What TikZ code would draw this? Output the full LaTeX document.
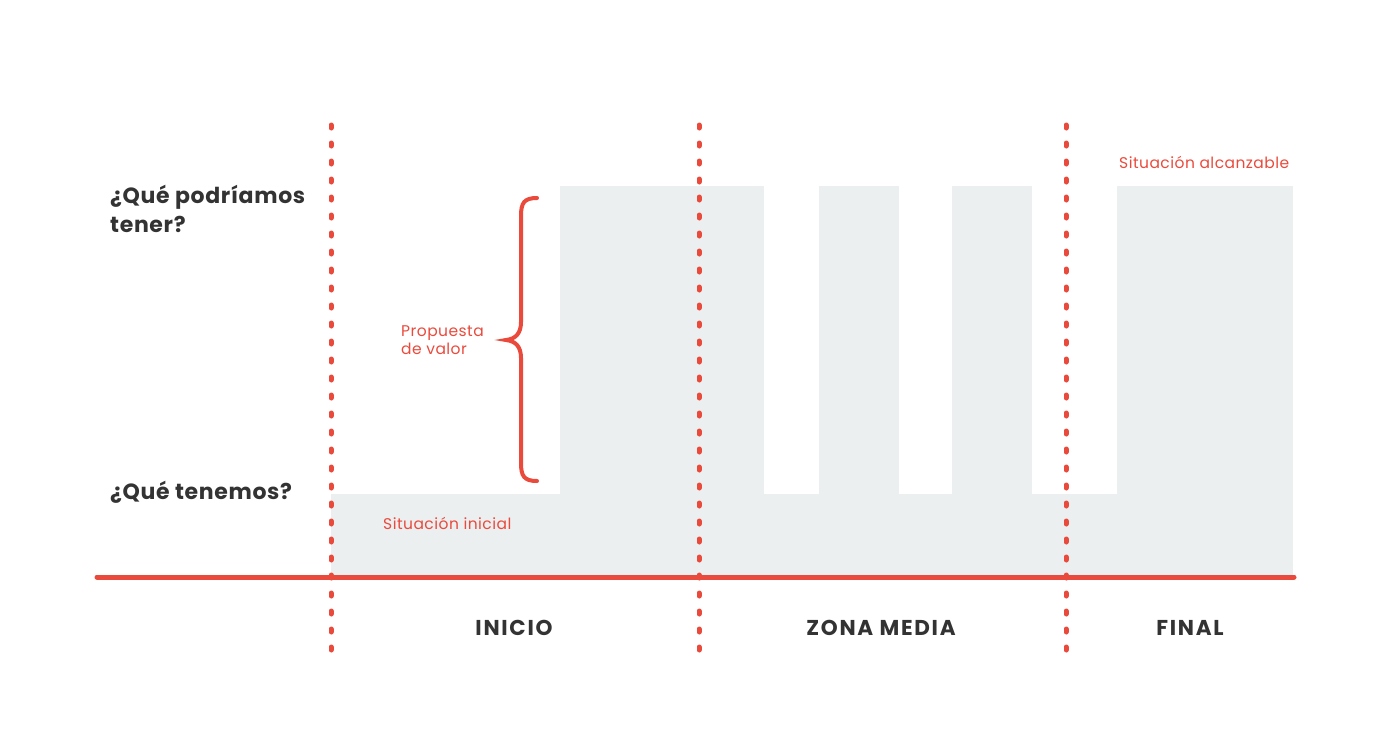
\documentclass[tikz,border=0pt]{standalone}
\usepackage{fontspec}
\setmainfont{Poppins}
\definecolor{rojo}{RGB}{234,74,60}
\definecolor{gris}{RGB}{235,239,240}
\definecolor{oscuro}{RGB}{51,51,51}
\tikzset{
  pregunta/.style={anchor=west,align=left,text=oscuro,font=\fontsize{22}{29}\selectfont\bfseries\addfontfeature{LetterSpace=3},inner sep=0pt},
  etiqueta/.style={anchor=west,align=left,text=rojo,font=\fontsize{15.5}{18}\selectfont\addfontfeature{LetterSpace=3},inner sep=0pt},
  zona/.style={text=oscuro,font=\fontsize{21.5}{24}\selectfont\bfseries\addfontfeature{LetterSpace=8},inner sep=0pt},
  divisor/.style={draw=rojo,line width=5pt,line cap=round,dash pattern=on 3pt off 15pt}
}
\begin{document}
\begin{tikzpicture}[x=1pt,y=-1pt]
   \useasboundingbox (0,0) rectangle (1400,742);
   % fondo gris
   \fill[gris] (331,494) rectangle (1293,577);
   \fill[gris] (560,186) rectangle (764,494);
   \fill[gris] (819,186) rectangle (899,494);
   \fill[gris] (952,186) rectangle (1032,494);
   \fill[gris] (1117,186) rectangle (1293,494);
   % eje
   \coordinate (ejeA) at (97,577);
   \coordinate (ejeB) at (1294,577);
   \draw[rojo,line width=5pt,line cap=round] (ejeA) -- (ejeB);
   % divisores
   \foreach \n/\x in {uno/331,dos/699,tres/1066}{
     \coordinate (\n arriba) at (\x,125);
     \coordinate (\n abajo) at (\x,652);
     \draw[divisor] (\n arriba) -- (\n abajo);
   }
   % llave
   \draw[rojo,line width=4pt,line cap=round]
     (537,198) .. controls (524,198) and (521,203) .. (521,216)
     -- (521,322) .. controls (521,334) and (515,339) .. (506,340)
     .. controls (515,341) and (521,346) .. (521,358)
     -- (521,463) .. controls (521,476) and (524,481) .. (537,481);
   % textos
   \node[pregunta] (tener) at (110,209) {¿Qué podríamos\\tener?};
   \node[pregunta] (tenemos) at (110,492) {¿Qué tenemos?};
   \node[etiqueta] (propuesta) at (401,340) {Propuesta\\de valor};
   \node[etiqueta] (inicial) at (383,523) {Situación inicial};
   \node[etiqueta] (alcanzable) at (1119,162) {Situación alcanzable};
   \node[zona] (inicio) at (514,628) {INICIO};
   \node[zona] (media) at (881,628) {ZONA MEDIA};
   \node[zona] (final) at (1190,628) {FINAL};
\end{tikzpicture}
\end{document}
